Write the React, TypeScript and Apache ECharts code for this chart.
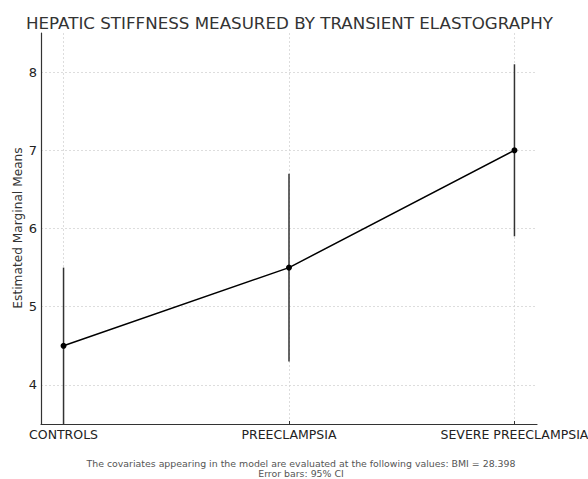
import React, { useEffect, useRef } from "react";
import * as echarts from "echarts";

// Groups on the horizontal axis and their estimated marginal means
const categories = ["CONTROLS", "PREECLAMPSIA", "SEVERE PREECLAMPSIA"];
const means = [4.5, 5.5, 7.0];
// 95% confidence interval bounds
const ciLower = [3.5, 4.3, 5.9];
const ciUpper = [5.5, 6.7, 8.1];
const yTicks = [4, 5, 6, 7, 8];

const FONT = "DejaVu Sans, sans-serif";

export default function App() {
  const ref = useRef<HTMLDivElement>(null);

  useEffect(() => {
    if (!ref.current) return;
    const chart = echarts.init(ref.current, null, { renderer: "svg" });
    const positions = categories.map((_, i) => i);

    chart.setOption({
      animation: false,
      backgroundColor: "#ffffff",
      title: {
        text: "HEPATIC STIFFNESS MEASURED BY TRANSIENT ELASTOGRAPHY",
        left: 21,
        top: 9,
        textStyle: { fontFamily: FONT, fontSize: 16.7, fontWeight: "normal", color: "#333333" },
      },
      grid: { left: 41, right: 51, top: 33, bottom: 55, outerBoundsMode: "none" },
      xAxis: {
        type: "value",
        min: -0.1,
        max: 2.1,
        axisLine: { show: true, onZero: false, lineStyle: { color: "#333333", width: 1.2 } },
        axisTick: { show: true, inside: true, length: 3, customValues: positions, lineStyle: { color: "#333333" } },
        axisLabel: {
          customValues: positions,
          formatter: (v: number) => categories[Math.round(v)] ?? "",
          fontFamily: FONT,
          fontSize: 12.5,
          color: "#222222",
          margin: 4,
        },
        splitLine: { show: true, lineStyle: { color: "#d4d4d4", type: [2, 2], width: 0.8 } },
      },
      yAxis: {
        type: "value",
        min: 3.5,
        max: 8.5,
        axisLine: { show: true, onZero: false, lineStyle: { color: "#333333", width: 1.2 } },
        axisTick: { show: false, customValues: yTicks },
        axisLabel: { customValues: yTicks, fontFamily: FONT, fontSize: 13, color: "#222222", margin: 4 },
        splitLine: { show: true, lineStyle: { color: "#d4d4d4", type: [2, 2], width: 0.8 } },
      },
      series: [
        {
          type: "custom",
          data: positions.map((p, i) => [p, ciLower[i], ciUpper[i]]),
          encode: { x: 0, y: [1, 2] },
          z: 2,
          renderItem: (_params: any, api: any) => {
            const x = api.value(0);
            const a = api.coord([x, api.value(1)]);
            const b = api.coord([x, api.value(2)]);
            return {
              type: "line",
              shape: { x1: a[0], y1: a[1], x2: b[0], y2: b[1] },
              style: { stroke: "#333333", lineWidth: 1.5 },
            };
          },
        },
        {
          type: "line",
          data: positions.map((p, i) => [p, means[i]]),
          symbol: "circle",
          symbolSize: 6,
          z: 3,
          lineStyle: { color: "#000000", width: 1.5 },
          itemStyle: { color: "#000000" },
        },
      ],
      graphic: [
        {
          type: "text",
          x: 18,
          y: 228,
          rotation: Math.PI / 2,
          style: {
            text: "Estimated Marginal Means",
            align: "center",
            verticalAlign: "middle",
            fontFamily: FONT,
            fontSize: 12.2,
            fill: "#333333",
          },
        },
        {
          type: "text",
          x: 301,
          y: 458,
          style: {
            text: "The covariates appearing in the model are evaluated at the following values: BMI = 28.398\nError bars: 95% CI",
            align: "center",
            fontFamily: FONT,
            fontSize: 9.4,
            lineHeight: 10.5,
            fill: "#555555",
          },
        },
      ],
    });

    return () => chart.dispose();
  }, []);

  return <div ref={ref} style={{ width: 588, height: 479, position: "absolute", left: 0, top: 0 }} />;
}
